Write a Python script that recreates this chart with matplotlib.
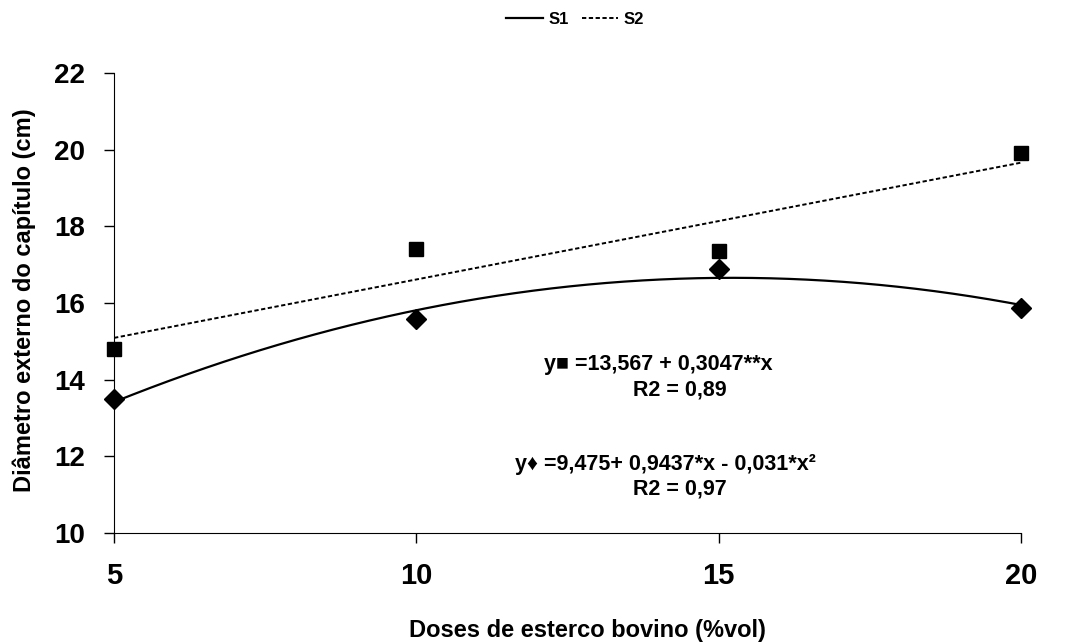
import matplotlib
matplotlib.use('Agg')
import matplotlib.pyplot as plt
import numpy as np

plt.rcParams['font.family'] = ['Liberation Sans', 'DejaVu Sans']
plt.rcParams['font.weight'] = 'bold'

# doses de esterco bovino (%vol)
doses = [5, 10, 15, 20]
# diametro externo do capitulo (cm)
s1 = [13.5, 15.58, 16.9, 15.87]
s2 = [14.8, 17.4, 17.35, 19.92]

# coeficientes das equacoes mostradas no grafico
coef_s1 = [9.475, 0.9437, -0.031]
coef_s2 = [13.567, 0.3047]

xx = np.linspace(5, 20, 200)
curva_s1 = coef_s1[0] + coef_s1[1] * xx + coef_s1[2] * xx ** 2
reta_s2 = coef_s2[0] + coef_s2[1] * xx

fig = plt.figure(figsize=(10.69, 6.43), dpi=100)
ax = fig.add_axes([0.1067, 0.171, 0.8484, 0.7155])

l1, = ax.plot(xx, curva_s1, color='black', lw=1.6, ls='-', label='S1')
l2, = ax.plot(xx, reta_s2, color='black', lw=1.4, ls=(0, (2.2, 1.3)), label='S2')
ax.plot(doses, s1, ls='none', marker='D', ms=10, color='black', clip_on=False)
ax.plot(doses, s2, ls='none', marker='s', ms=9.5, color='black', clip_on=False)

ax.set_xlim(5, 20)
ax.set_ylim(10, 22)
ax.set_xticks([5, 10, 15, 20])
ax.set_yticks(range(10, 23, 2))
ax.tick_params(axis='both', direction='out', length=7, width=1, pad=14)
ax.tick_params(axis='x', labelsize=21)
ax.tick_params(axis='y', labelsize=20)
for lab in ax.get_xticklabels() + ax.get_yticklabels():
    lab.set_fontweight('bold')
ax.spines['top'].set_visible(False)
ax.spines['right'].set_visible(False)

fig.text(587 / 1069, 1 - 630 / 643, 'Doses de esterco bovino (%vol)', fontsize=17,
         fontweight='bold', ha='center', va='center')
fig.text(24 / 1069, 1 - 300 / 643, 'Diâmetro externo do capítulo (cm)', fontsize=17,
         fontweight='bold', ha='center', va='center', rotation=90)

ax.text(14.0, 14.4, 'y■ =13,567 + 0,3047**x', fontsize=15.5, fontweight='bold',
        ha='center', va='center')
ax.text(14.36, 13.73, 'R2 = 0,89', fontsize=15.5, fontweight='bold', ha='center', va='center')
ax.text(14.12, 11.78, 'y♦ =9,475+ 0,9437*x - 0,031*x²', fontsize=15.5, fontweight='bold',
        ha='center', va='center')
ax.text(14.36, 11.15, 'R2 = 0,97', fontsize=15.5, fontweight='bold', ha='center', va='center')

fig.legend(handles=[l1, l2], loc='upper center', bbox_to_anchor=(0.538, 1.005), ncol=2,
           frameon=False, handlelength=2.2, handletextpad=0.3, columnspacing=0.8,
           prop={'weight': 'bold', 'size': 12})

fig.savefig('out.png', dpi=100)
